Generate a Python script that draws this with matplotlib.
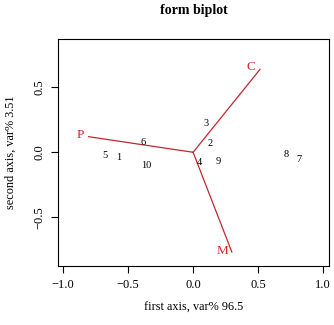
import matplotlib
matplotlib.use("Agg")
import matplotlib.pyplot as plt

# Observation scores (first axis, second axis)
obs_labels = ["1", "2", "3", "4", "5", "6", "7", "8", "9", "10"]
obs_x = [-0.572, 0.128, 0.100, 0.049, -0.675, -0.382, 0.813, 0.720, 0.192, -0.362]
obs_y = [-0.038, 0.066, 0.223, -0.077, -0.028, 0.072, -0.052, -0.018, -0.069, -0.103]

# Variable loadings (arrow ends)
var_labels = ["P", "C", "M"]
var_x = [-0.805, 0.515, 0.298]
var_y = [0.120, 0.638, -0.767]
# label positions
lab_x = [-0.870, 0.446, 0.226]
lab_y = [0.133, 0.654, -0.757]

plt.rcParams['font.family'] = ['Liberation Serif', 'DejaVu Serif']

fig = plt.figure(figsize=(3.34, 3.25), dpi=100)
ax = fig.add_axes([0.1737, 0.1815, 0.8113, 0.6975])

for lx, ly, t in zip(obs_x, obs_y, obs_labels):
    ax.text(lx, ly, t, ha='center', va='center', fontsize=7.5, color='black')

for vx, vy in zip(var_x, var_y):
    ax.plot([0, vx], [0, vy], color='#c0282d', lw=0.9)
for lx, ly, t in zip(lab_x, lab_y, var_labels):
    ax.text(lx, ly, t, ha='center', va='center', fontsize=9.5, color='#d62728')

ax.set_xlim(-1.04, 1.046)
ax.set_ylim(-0.875, 0.869)
ax.set_xticks([-1.0, -0.5, 0.0, 0.5, 1.0])
ax.set_xticklabels(["\u22121.0", "\u22120.5", "0.0", "0.5", "1.0"])
ax.set_yticks([-0.5, 0.0, 0.5])
ax.set_yticklabels(["\u22120.5", "0.0", "0.5"], rotation=90, va='center')
ax.tick_params(labelsize=9, length=5, width=0.8, pad=4)
for s in ax.spines.values():
    s.set_linewidth(0.8)

ax.set_xlabel("first axis, var% 96.5", fontsize=8.8, labelpad=8)
ax.set_ylabel("second axis, var% 3.51", fontsize=8.8, labelpad=12)
ax.set_title("form biplot", fontsize=10, fontweight='bold', pad=18)

fig.savefig("out.png", dpi=100)
